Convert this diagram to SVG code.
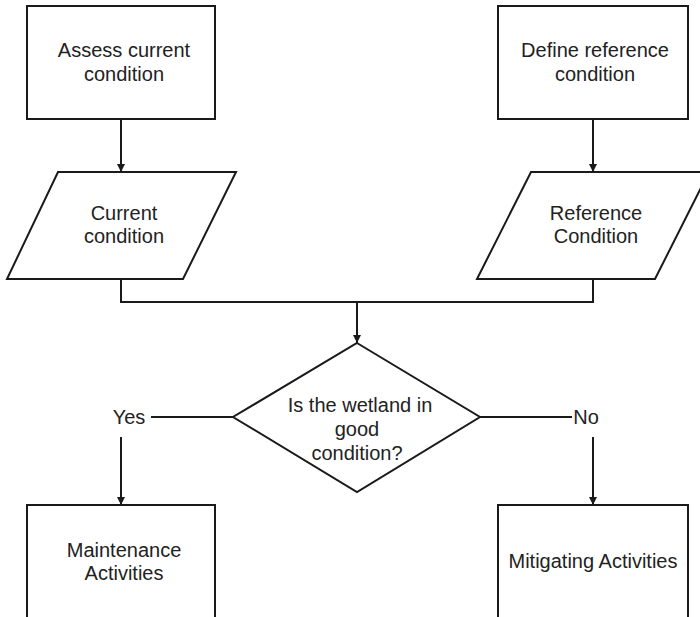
<svg xmlns="http://www.w3.org/2000/svg" width="700" height="617" viewBox="0 0 700 617">
<defs>
<marker id="arr" viewBox="0 0 10 10" refX="10" refY="5" markerWidth="8" markerHeight="8" markerUnits="userSpaceOnUse" orient="auto">
<path d="M0,0 L10,5 L0,10 z" fill="#1a1a1a"/>
</marker>
</defs>
<style>
.shape{fill:#fff;stroke:#1a1a1a;stroke-width:2}
.conn{fill:none;stroke:#1a1a1a;stroke-width:2}
text{font-family:"Liberation Sans",Arial,sans-serif;font-size:20px;fill:#222;text-anchor:middle}
</style>
<rect width="700" height="617" fill="#fff"/>
<g id="connectors">
<line class="conn" x1="121" y1="119" x2="121" y2="172" marker-end="url(#arr)"/>
<line class="conn" x1="593" y1="119" x2="593" y2="172" marker-end="url(#arr)"/>
<polyline class="conn" points="121,279 121,302 593,302 593,279"/>
<line class="conn" x1="357" y1="302" x2="357" y2="343" marker-end="url(#arr)"/>
<line class="conn" x1="151" y1="417" x2="233" y2="417"/>
<line class="conn" x1="480" y1="417" x2="572" y2="417"/>
<line class="conn" x1="121" y1="437" x2="121" y2="505" marker-end="url(#arr)"/>
<line class="conn" x1="593" y1="437" x2="593" y2="505" marker-end="url(#arr)"/>
<text x="129" y="424">Yes</text>
<text x="586" y="424">No</text>
</g>
<g id="assess">
<rect class="shape" x="27" y="6" width="188" height="113"/>
<text x="124" y="57">Assess current</text>
<text x="124" y="81">condition</text>
</g>
<g id="define">
<rect class="shape" x="498" y="6" width="190" height="113"/>
<text x="595" y="57">Define reference</text>
<text x="595" y="81">condition</text>
</g>
<g id="current">
<polygon class="shape" points="58,172 236,172 183,279 7,279"/>
<text x="124" y="220">Current</text>
<text x="124" y="243">condition</text>
</g>
<g id="reference">
<polygon class="shape" points="531,172 709,172 655,279 477,279"/>
<text x="596" y="220">Reference</text>
<text x="596" y="243">Condition</text>
</g>
<g id="decision">
<polygon class="shape" points="357,343 480,417 357,492 233,417"/>
<text x="360" y="412">Is the wetland in</text>
<text x="357" y="436">good</text>
<text x="357" y="460">condition?</text>
</g>
<g id="maintenance">
<rect class="shape" x="27" y="505" width="188" height="140"/>
<text x="124" y="557">Maintenance</text>
<text x="124" y="580">Activities</text>
</g>
<g id="mitigating">
<rect class="shape" x="498" y="505" width="190" height="140"/>
<text x="593" y="568">Mitigating Activities</text>
</g>
</svg>
